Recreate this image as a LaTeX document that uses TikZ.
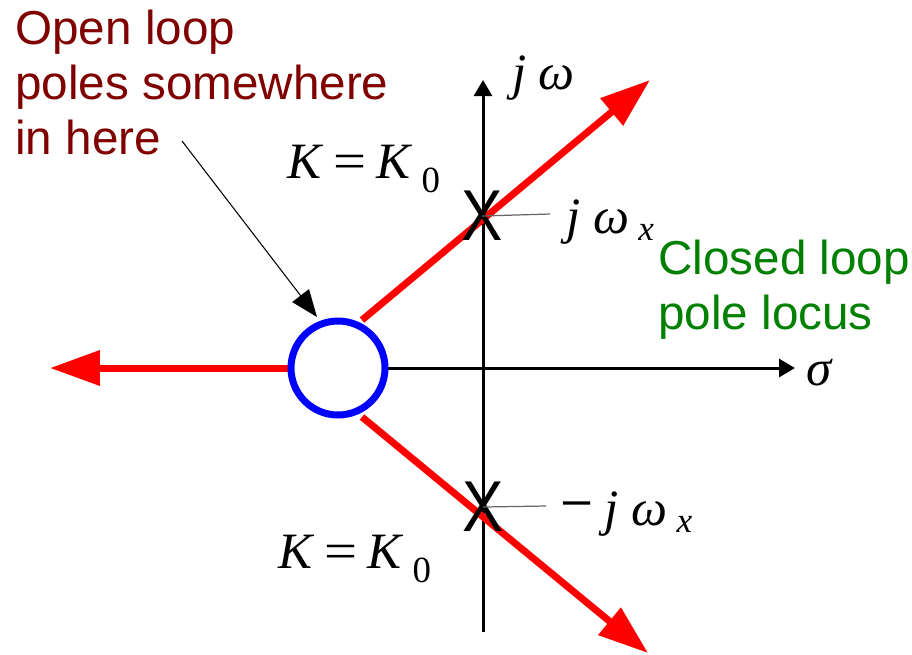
\documentclass[tikz,border=0pt]{standalone}
\usepackage{fontspec}
\usetikzlibrary{arrows.meta}
\newfontfamily\arialf{Liberation Sans}
\newfontfamily\timesf{Liberation Serif}
\definecolor{darkred}{RGB}{128,0,0}
\definecolor{locusgreen}{RGB}{0,128,0}
\definecolor{pureblue}{RGB}{0,0,255}
\definecolor{purered}{RGB}{255,0,0}
\newcommand{\subsz}{\fontsize{20}{24}\selectfont}
\begin{document}
\begin{tikzpicture}[x=0.02cm,y=-0.02cm,
  axisline/.style={line width=0.06cm, -{Triangle[length=0.32cm,width=0.36cm]}},
  locus/.style={purered, line width=0.14cm, -{Triangle[length=1cm,width=0.68cm]}},
  pointer/.style={black, line width=0.6pt, -{Triangle[length=0.54cm,width=0.42cm]}},
  leader/.style={black!60, line width=0.7pt},
  mathlbl/.style={font=\timesf\fontsize{29}{34}\selectfont, inner sep=0pt, anchor=base west},
  saytext/.style={font=\arialf\fontsize{27.1}{31.3}\selectfont, inner sep=0pt, anchor=north west, align=left},
  xmark/.style={font=\arialf\fontsize{41}{41}\selectfont, inner sep=0pt, xscale=0.86}
]
\useasboundingbox (0,0) rectangle (912,654);

% coordinates
\coordinate (vbot) at (483,632);
\coordinate (vtop) at (483,80);
\coordinate (hstart) at (387,368);
\coordinate (hend) at (795,368);
\coordinate (upS) at (362,320);
\coordinate (upE) at (650,80);
\coordinate (loS) at (362,417);
\coordinate (loE) at (648,653);
\coordinate (leftS) at (290,368);
\coordinate (leftE) at (50,368);

% axes
\draw[axisline] (vbot) -- (vtop);
\draw[axisline] (hstart) -- (hend);

% loci
\draw[locus] (upS) -- (upE);
\draw[locus] (loS) -- (loE);
\draw[locus] (leftS) -- (leftE);

% open-loop pole region
\node[draw=pureblue, line width=0.14cm, circle, minimum size=1.88cm, inner sep=0pt, fill=white] (pole) at (338,368) {};

% crossing marks
\node[xmark] (xup) at (482,216) {X};
\node[xmark] (xlo) at (483,507) {X};

% leader lines
\coordinate (ldup) at (550,214);
\coordinate (ldlo) at (546,506);
\draw[leader] (xup.center) -- (ldup);
\draw[leader] (xlo.center) -- (ldlo);

% math labels
\node[mathlbl] (jw) at (512,89) {\textit{j}\hspace{0.24cm}\textit{ω}};
\node[mathlbl] (sigma) at (806,385) {\textit{σ}};
\node[mathlbl] (jwx) at (566,233) {\textit{j}\hspace{0.26cm}\textit{ω}\hspace{0.18cm}\raisebox{-0.14cm}{\subsz\textit{x}}};
\node[mathlbl] (mjwx) at (560,525) {\scalebox{1.15}[1.3]{−}\hspace{0.22cm}\textit{j}\hspace{0.26cm}\textit{ω}\hspace{0.18cm}\raisebox{-0.14cm}{\subsz\textit{x}}};
\node[mathlbl] (kup) at (287,178) {\textit{K}\hspace{0.2cm}\scalebox{1.15}[1]{=}\hspace{0.2cm}\textit{K}\hspace{0.18cm}\raisebox{-0.28cm}{\fontsize{21}{24}\selectfont 0}};
\node[mathlbl] (klo) at (278,568) {\textit{K}\hspace{0.2cm}\scalebox{1.15}[1]{=}\hspace{0.2cm}\textit{K}\hspace{0.18cm}\raisebox{-0.28cm}{\fontsize{21}{24}\selectfont 0}};

% annotations
\node[saytext, text=darkred] (open) at (15,10) {Open loop\\poles somewhere\\in here};
\node[saytext, text=locusgreen] (closed) at (658,240) {Closed loop\\pole locus};

% pointer
\coordinate (ptrS) at (182,141);
\coordinate (ptrE) at (317,317);
\draw[pointer] (ptrS) -- (ptrE);
\end{tikzpicture}
\end{document}
